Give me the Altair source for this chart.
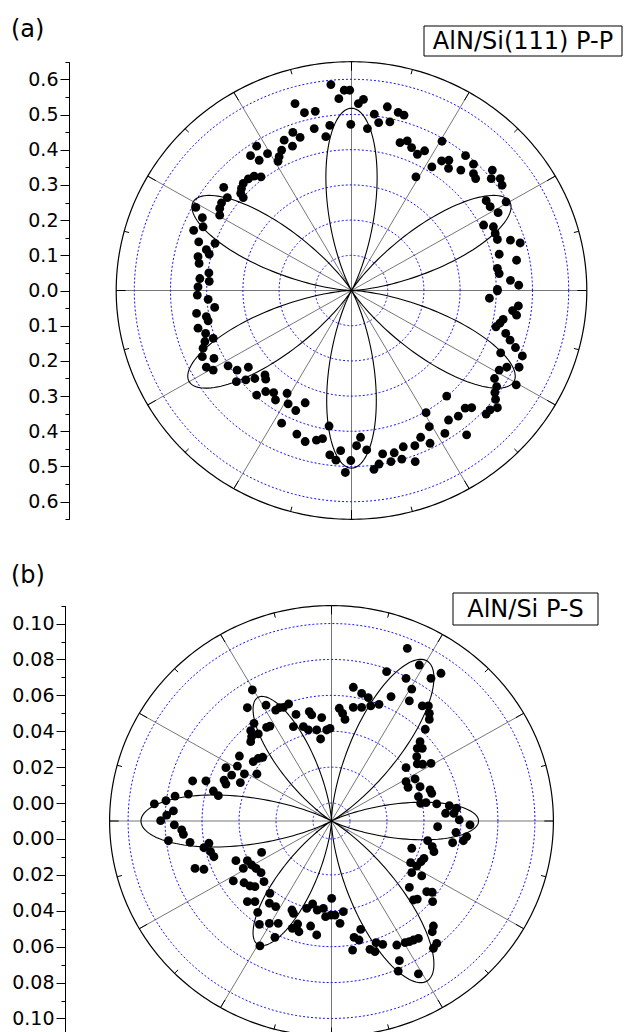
import numpy as np
import pandas as pd
import altair as alt

FONT = "DejaVu Sans"

# ---------------- (a) AlN/Si(111) P-P : measured points (cartesian components, axis units)
pp_ul_x = [-0.057,-0.020,-0.005,-0.035,-0.002,-0.156,-0.130,-0.100,-0.103,-0.060,
           -0.071,-0.162,-0.142,-0.186,-0.163,-0.193,-0.200,-0.203,-0.262,-0.232,
           -0.279,-0.255,-0.250,-0.269,-0.285,-0.299,-0.304,-0.306,-0.299,-0.353,
           -0.343,-0.359,-0.364,-0.364,-0.430,-0.412,-0.410,-0.436,-0.377,-0.422,
           -0.401,-0.393,-0.424,-0.421,-0.394,-0.419,-0.393,-0.424]
pp_ul_y = [0.585,0.569,0.569,0.545,0.472,0.531,0.505,0.509,0.460,0.469,
           0.437,0.449,0.435,0.427,0.410,0.399,0.380,0.367,0.410,0.389,
           0.383,0.370,0.323,0.325,0.317,0.304,0.290,0.276,0.264,0.293,
           0.264,0.249,0.233,0.214,0.236,0.207,0.181,0.171,0.134,0.138,
           0.116,0.103,0.096,0.077,0.050,0.034,0.026,0.010]
pp_ll_x = [-0.426,-0.396,-0.378,-0.428,-0.401,-0.396,-0.424,-0.403,-0.382,-0.405,
           -0.410,-0.412,-0.380,-0.401,-0.382,-0.341,-0.316,-0.285,-0.318,-0.292,
           -0.267,-0.239,-0.237,-0.262,-0.237,-0.215,-0.210,-0.178,-0.175,-0.154,
           -0.128,-0.193,-0.151,-0.128,-0.097,-0.080,-0.062,-0.060,-0.043,-0.030,
           -0.017,-0.002]
pp_ll_y = [-0.013,-0.025,-0.048,-0.065,-0.074,-0.086,-0.107,-0.122,-0.136,-0.145,
           -0.164,-0.188,-0.193,-0.218,-0.226,-0.214,-0.226,-0.218,-0.259,-0.254,
           -0.250,-0.240,-0.252,-0.297,-0.287,-0.290,-0.311,-0.292,-0.322,-0.341,
           -0.319,-0.377,-0.408,-0.429,-0.425,-0.421,-0.385,-0.467,-0.482,-0.455,
           -0.517,-0.483]
pp_lr_x = [0.403,0.381,0.461,0.445,0.456,0.419,0.410,0.399,0.426,0.438,
           0.453,0.472,0.412,0.429,0.408,0.463,0.455,0.395,0.401,0.396,
           0.398,0.403,0.383,0.372,0.332,0.314,0.295,0.263,0.206,0.268,
           0.258,0.318,0.215,0.217,0.191,0.175,0.143,0.176,0.139,0.118,
           0.109,0.086,0.076,0.062,0.042,0.014,0.025]
pp_lr_y = [-0.001,-0.022,-0.044,-0.057,-0.070,-0.082,-0.093,-0.103,-0.122,-0.141,
           -0.162,-0.186,-0.177,-0.218,-0.226,-0.218,-0.268,-0.250,-0.273,-0.290,
           -0.309,-0.333,-0.339,-0.351,-0.333,-0.334,-0.357,-0.300,-0.347,-0.368,
           -0.406,-0.410,-0.387,-0.434,-0.417,-0.441,-0.444,-0.486,-0.479,-0.461,
           -0.486,-0.464,-0.493,-0.508,-0.453,-0.441,-0.417]
pp_ur_x = [0.019,0.033,0.044,0.063,0.075,0.099,0.106,0.129,0.145,0.134,
           0.154,0.166,0.182,0.202,0.178,0.222,0.250,0.249,0.269,0.268,
           0.302,0.315,0.337,0.337,0.343,0.389,0.386,0.411,0.416,0.372,
           0.383,0.427,0.405,0.365,0.392,0.397,0.403,0.439,0.466,0.408,
           0.456,0.403,0.408,0.439,0.462,0.403]
pp_ur_y = [0.531,0.543,0.460,0.501,0.477,0.522,0.479,0.506,0.498,0.420,
           0.425,0.406,0.387,0.397,0.323,0.351,0.424,0.368,0.370,0.347,
           0.342,0.383,0.359,0.332,0.318,0.342,0.318,0.318,0.299,0.255,
           0.238,0.252,0.221,0.186,0.181,0.162,0.145,0.143,0.135,0.103,
           0.086,0.063,0.048,0.029,0.015,0.003]

# ---------------- (b) AlN/Si P-S : measured points (components from the plot centre;
# the radial axis starts at -0.01, so the centre is r = -0.01)
ps_ul_x = [-0.0428,-0.0455,-0.0354,-0.0302,-0.0282,-0.0260,-0.0232,-0.0192,-0.0206,-0.0152,
           -0.0120,-0.0107,-0.0125,-0.0080,-0.0053,-0.0059,-0.0026,-0.0008,-0.0419,-0.0437,
           -0.0432,-0.0396,-0.0437,-0.0351,-0.0333,-0.0498,-0.0509,-0.0571,-0.0540,-0.0581,
           -0.0571,-0.0493,-0.0471,-0.0403,-0.0423,-0.0396,-0.0372,-0.0751,-0.0679,-0.0639,
           -0.0612,-0.0774,-0.0846,-0.0895,-0.0958,-0.0855,-0.0891,-0.0924]
ps_ul_y = [0.0730,0.0631,0.0646,0.0618,0.0631,0.0633,0.0652,0.0594,0.0526,0.0526,
           0.0609,0.0591,0.0507,0.0507,0.0576,0.0457,0.0507,0.0516,0.0544,0.0503,
           0.0470,0.0485,0.0442,0.0522,0.0529,0.0362,0.0306,0.0297,0.0256,0.0228,
           0.0206,0.0214,0.0262,0.0262,0.0331,0.0349,0.0355,0.0223,0.0223,0.0167,
           0.0141,0.0150,0.0139,0.0113,0.0095,0.0056,0.0033,0.0002]
ps_ll_x = [-0.0850,-0.0810,-0.0801,-0.0882,-0.0765,-0.0690,-0.0663,-0.0654,-0.0636,-0.0738,
           -0.0690,-0.0517,-0.0455,-0.0432,-0.0408,-0.0381,-0.0378,-0.0477,-0.0531,-0.0473,
           -0.0441,-0.0414,-0.0365,-0.0333,-0.0455,-0.0414,-0.0399,-0.0336,-0.0302,-0.0390,
           -0.0336,-0.0288,-0.0306,-0.0387,-0.0214,-0.0206,-0.0212,-0.0183,-0.0176,-0.0113,
           -0.0080,-0.0134,-0.0102,-0.0077,-0.0044,-0.0032,0.0001,-0.0003]
ps_ll_y = [-0.0022,-0.0050,-0.0074,-0.0110,-0.0119,-0.0149,-0.0124,-0.0171,-0.0199,-0.0264,
           -0.0269,-0.0221,-0.0221,-0.0245,-0.0264,-0.0288,-0.0175,-0.0264,-0.0334,-0.0344,
           -0.0362,-0.0366,-0.0338,-0.0403,-0.0449,-0.0449,-0.0509,-0.0458,-0.0477,-0.0576,
           -0.0570,-0.0570,-0.0648,-0.0696,-0.0496,-0.0514,-0.0598,-0.0574,-0.0617,-0.0585,
           -0.0635,-0.0487,-0.0462,-0.0496,-0.0487,-0.0533,-0.0431,-0.0524]
ps_ur_x = [0.0410,0.0475,0.0298,0.0403,0.0538,0.0592,0.0118,0.0163,0.0199,0.0212,
           0.0257,0.0118,0.0163,0.0322,0.0434,0.0421,0.0491,0.0524,0.0529,0.0529,
           0.0507,0.0042,0.0060,0.0073,0.0479,0.0464,0.0491,0.0461,0.0464,0.0493,
           0.0538,0.0403,0.0403,0.0452,0.0414,0.0479,0.0470,0.0533,0.0542,0.0482,
           0.0511,0.0569,0.0637,0.0677,0.0617,0.0662,0.0691]
ps_ur_y = [0.0962,0.0869,0.0832,0.0795,0.0795,0.0823,0.0745,0.0711,0.0687,0.0641,
           0.0650,0.0633,0.0633,0.0693,0.0735,0.0669,0.0641,0.0641,0.0600,0.0566,
           0.0511,0.0628,0.0600,0.0566,0.0442,0.0405,0.0405,0.0358,0.0318,0.0316,
           0.0321,0.0297,0.0219,0.0234,0.0188,0.0191,0.0136,0.0173,0.0154,0.0098,
           0.0102,0.0095,0.0085,0.0071,0.0043,0.0043,0.0006]
ps_lr_x = [0.0749,0.0574,0.0673,0.0731,0.0713,0.0655,0.0520,0.0545,0.0554,0.0434,
           0.0500,0.0484,0.0428,0.0461,0.0434,0.0488,0.0421,0.0515,0.0545,0.0443,
           0.0464,0.0547,0.0551,0.0545,0.0470,0.0443,0.0421,0.0398,0.0353,0.0569,
           0.0551,0.0367,0.0361,0.0470,0.0019,0.0064,0.0046,0.0158,0.0122,0.0149,
           0.0114,0.0208,0.0235,0.0241,0.0277]
ps_lr_y = [-0.0022,-0.0032,-0.0063,-0.0087,-0.0110,-0.0121,-0.0110,-0.0143,-0.0171,-0.0152,
           -0.0208,-0.0227,-0.0232,-0.0251,-0.0288,-0.0306,-0.0370,-0.0394,-0.0397,-0.0440,
           -0.0435,-0.0449,-0.0585,-0.0617,-0.0654,-0.0663,-0.0672,-0.0678,-0.0691,-0.0682,
           -0.0709,-0.0778,-0.0836,-0.0852,-0.0524,-0.0505,-0.0570,-0.0604,-0.0648,-0.0663,
           -0.0719,-0.0715,-0.0728,-0.0678,-0.0687]

# ---------------- polar frame
grid_angles = [0, 30, 60, 90, 120, 150, 180, 210, 240, 270, 300, 330]
minor_angles = [15, 45, 75, 105, 135, 165, 195, 225, 255, 285, 315, 345]
pp_rings = [0.1, 0.2, 0.3, 0.4, 0.5, 0.6]
pp_outer = 0.65
ps_rings = [0.01, 0.03, 0.05, 0.07, 0.09, 0.11]   # r = 0.00 ... 0.10 (axis starts at -0.01)
ps_outer = 0.12
pp_major_ticks = [-0.6, -0.5, -0.4, -0.3, -0.2, -0.1, 0.0, 0.1, 0.2, 0.3, 0.4, 0.5, 0.6]
pp_minor_ticks = [-0.65, -0.55, -0.45, -0.35, -0.25, -0.15, -0.05,
                  0.05, 0.15, 0.25, 0.35, 0.45, 0.55, 0.65]
ps_major_ticks = [-0.11, -0.09, -0.07, -0.05, -0.03, -0.01, 0.01, 0.03, 0.05, 0.07, 0.09, 0.11]
ps_minor_ticks = [-0.12, -0.10, -0.08, -0.06, -0.04, -0.02, 0.0,
                  0.02, 0.04, 0.06, 0.08, 0.10, 0.12]

# fit parameters: (a) r = (p + q sin 3θ)^2 ; (b) r = (p + q cos 3θ)^2
pp_fit_p, pp_fit_q = -0.0046, 0.715
ps_fit_p, ps_fit_q = -0.0195, 0.3015

ORIGIN = 69  # left padding: the plot origin sits on the (a) axis line


def ring_frame(radii, step=1.0):
    deg = np.arange(0, 360 + step, step)
    t = np.deg2rad(deg)
    parts = []
    for i, r in enumerate(radii):
        parts.append(pd.DataFrame({"ring": i, "t": deg, "x": r * np.cos(t), "y": r * np.sin(t)}))
    return pd.concat(parts, ignore_index=True)


def spokes(angles, r0, r1):
    a = np.deg2rad(np.array(angles, dtype=float))
    return pd.DataFrame({"x": r0 * np.cos(a), "y": r0 * np.sin(a),
                         "x2": r1 * np.cos(a), "y2": r1 * np.sin(a)})


def fit_frame(p, q, use_sin):
    deg = np.arange(0, 360.25, 0.5)
    t = np.deg2rad(deg)
    base = np.sin(3 * t) if use_sin else np.cos(3 * t)
    r = (p + q * base) ** 2
    return pd.DataFrame({"t": deg, "x": r * np.cos(t), "y": r * np.sin(t)})


def panel(px, py, rings, outer, fit_df, xdom, xrng, ydom, yrng, major, minor, label_expr,
          axis_offset, major_len, minor_len, tag, tag_xy, box_xy, box_label):
    xs = alt.Scale(domain=xdom, range=[v - ORIGIN for v in xrng], nice=False, zero=False)
    ys = alt.Scale(domain=ydom, range=yrng, nice=False, zero=False)
    common = dict(orient="left", offset=axis_offset, grid=False, domainColor="black",
                  domainWidth=1, tickColor="black", tickWidth=1, title=None)
    major_axis = alt.Axis(values=major, labelExpr=label_expr, tickSize=9,
                          labelColor="black", labelFont=FONT, labelFontSize=19,
                          labelPadding=2, labelOverlap=False, labelFlush=False, **common)
    minor_axis = alt.Axis(values=minor, tickSize=4, labels=False, domain=False, **common)

    def X(f="x"):
        return alt.X(f + ":Q", scale=xs, axis=None, title=None)

    def Y(f="y", axis=None):
        return alt.Y(f + ":Q", scale=ys, axis=axis, title=None)

    grid = alt.Chart(spokes(grid_angles, 0, outer)).mark_rule(
        color="#777777", strokeWidth=1).encode(
        x=X(), y=Y(axis=major_axis), x2=alt.X2("x2"), y2=alt.Y2("y2"))
    rings_l = alt.Chart(ring_frame(rings)).mark_line(
        color="#1010ff", strokeWidth=1, strokeDash=[2, 2]).encode(
        x=X(), y=Y(), detail="ring:N", order="t:Q")
    fit_l = alt.Chart(fit_df).mark_line(color="black", strokeWidth=1.1).encode(
        x=X(), y=Y(), order="t:Q")
    outer_l = alt.Chart(ring_frame([outer])).mark_line(color="black", strokeWidth=1.2).encode(
        x=X(), y=Y(axis=minor_axis), detail="ring:N", order="t:Q")
    maj = alt.Chart(spokes(grid_angles, outer - major_len, outer)).mark_rule(
        color="black", strokeWidth=1).encode(x=X(), y=Y(), x2=alt.X2("x2"), y2=alt.Y2("y2"))
    mnr = alt.Chart(spokes(minor_angles, outer - minor_len, outer)).mark_rule(
        color="black", strokeWidth=1).encode(x=X(), y=Y(), x2=alt.X2("x2"), y2=alt.Y2("y2"))
    pts = alt.Chart(pd.DataFrame({"x": px, "y": py})).mark_circle(
        size=78, color="black", opacity=1).encode(x=X(), y=Y())
    tag_t = alt.Chart(pd.DataFrame({"label": [tag]})).mark_text(
        font=FONT, fontSize=24, align="left", baseline="middle", color="black").encode(
        x=alt.value(tag_xy[0] - ORIGIN), y=alt.value(tag_xy[1]), text="label:N")
    bx = alt.Chart(pd.DataFrame({"label": [box_label]})).mark_rect(
        fill="white", stroke="black", strokeWidth=1).encode(
        x=alt.value(box_xy[0] - ORIGIN), x2=alt.value(box_xy[1] - ORIGIN),
        y=alt.value(box_xy[2]), y2=alt.value(box_xy[3]))
    bt = alt.Chart(pd.DataFrame({"label": [box_label]})).mark_text(
        font=FONT, fontSize=24, align="center", baseline="middle", color="black").encode(
        x=alt.value((box_xy[0] + box_xy[1]) / 2 - ORIGIN),
        y=alt.value((box_xy[2] + box_xy[3]) / 2 + 1),
        text="label:N")
    return alt.layer(grid, rings_l, fit_l, outer_l, maj, mnr, pts, tag_t, bx, bt).resolve_axis(
        y="independent")


chart_a = panel(
    pp_ul_x + pp_ll_x + pp_lr_x + pp_ur_x, pp_ul_y + pp_ll_y + pp_lr_y + pp_ur_y,
    pp_rings, pp_outer, fit_frame(pp_fit_p, pp_fit_q, True),
    [-0.65, 0.65], [116.2, 586.8], [-0.65, 0.65], [519.3, 61.7],
    pp_major_ticks, pp_minor_ticks, "format(abs(datum.value), '.1f')",
    0, 0.026, 0.014, "(a)", (11, 30), (424, 622, 26, 56), "AlN/Si(111) P-P")

chart_b = panel(
    ps_ul_x + ps_ll_x + ps_ur_x + ps_lr_x, ps_ul_y + ps_ll_y + ps_ur_y + ps_lr_y,
    ps_rings, ps_outer, fit_frame(ps_fit_p, ps_fit_q, False),
    [-0.12, 0.12], [109.6, 553.4], [-0.12, 0.12], [1036.4, 605.6],
    ps_major_ticks, ps_minor_ticks, "format(abs(datum.value) - 0.01, '.2f')",
    4, 0.0049, 0.0027, "(b)", (11, 576), (453, 598, 593, 625), "AlN/Si P-S")

chart = alt.layer(chart_a, chart_b).resolve_scale(
    x="independent", y="independent"
).properties(
    width=624 - ORIGIN, height=1032,
    padding={"left": ORIGIN, "top": 0, "right": 0, "bottom": 0},
    autosize=alt.AutoSizeParams(type="none"),
    background="white",
).configure_view(strokeWidth=0)

chart.save("out.html", embed_options={"renderer": "svg", "actions": False})
